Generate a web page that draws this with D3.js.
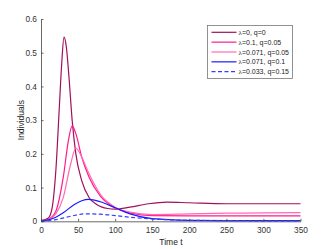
<!DOCTYPE html>
<html>
<head>
<meta charset="utf-8">
<script src="https://cdn.jsdelivr.net/npm/d3@7"></script>
<style>
  body { margin: 0; background: #fff; }
  svg { font-family: "Liberation Sans", Arial, sans-serif; }
</style>
</head>
<body>
<div id="chart"></div>
<script>
// values
const xTicks = [0, 50, 100, 150, 200, 250, 300, 350];
const yTicks = [0, 0.1, 0.2, 0.3, 0.4, 0.5, 0.6];

const tDark = [0, 10, 15, 20, 25, 28, 31, 34, 38, 42, 47, 55, 65, 75, 90, 100, 120, 145, 170, 200, 250, 300, 350];
const vDark = [0.002, 0.01, 0.04, 0.15, 0.35, 0.47, 0.546, 0.52, 0.42, 0.3, 0.2, 0.12, 0.07, 0.05, 0.038, 0.036, 0.042, 0.052, 0.057, 0.055, 0.052, 0.052, 0.052];

const tDeep = [0, 10, 20, 30, 37, 42, 47, 55, 65, 80, 100, 120, 150, 200, 250, 300, 350];
const vDeep = [0.001, 0.006, 0.03, 0.13, 0.24, 0.283, 0.26, 0.19, 0.13, 0.075, 0.04, 0.025, 0.017, 0.016, 0.016, 0.016, 0.016];

const tLight = [0, 10, 20, 30, 40, 47, 55, 65, 80, 100, 120, 150, 200, 250, 300, 350];
const vLight = [0.001, 0.005, 0.022, 0.07, 0.17, 0.217, 0.19, 0.14, 0.08, 0.042, 0.027, 0.02, 0.022, 0.024, 0.025, 0.026];

const tBlue = [0, 10, 20, 30, 45, 55, 64, 80, 100, 120, 150, 200, 250, 350];
const vBlue = [0.001, 0.004, 0.012, 0.025, 0.05, 0.061, 0.065, 0.058, 0.04, 0.022, 0.008, 0.003, 0.002, 0.002];

const tDash = [0, 20, 40, 60, 80, 100, 120, 150, 200, 250, 350];
const vDash = [0, 0.005, 0.015, 0.022, 0.021, 0.017, 0.012, 0.007, 0.003, 0.002, 0.001];

const series = [
  { lam: "0", q: "0", t: tDark, v: vDark, color: "#a0105c", dash: null },
  { lam: "0.1", q: "0.05", t: tDeep, v: vDeep, color: "#ff1a8c", dash: null },
  { lam: "0.071", q: "0.05", t: tLight, v: vLight, color: "#ff6ab4", dash: null },
  { lam: "0.071", q: "0.1", t: tBlue, v: vBlue, color: "#1a1aff", dash: null },
  { lam: "0.033", q: "0.15", t: tDash, v: vDash, color: "#3a3aff", dash: "4,2.5" }
];

const width = 332, height = 249;
const svg = d3.select("#chart").append("svg")
  .attr("width", width).attr("height", height);

const x = d3.scaleLinear().domain([0, 350]).range([41, 300.5]);
const y = d3.scaleLinear().domain([0, 0.6]).range([221.3, 19]);

const line = d3.line()
  .x(d => x(d[0])).y(d => y(d[1]))
  .curve(d3.curveMonotoneX);

series.forEach(s => {
  svg.append("path")
    .datum(s.t.map((t, i) => [t, s.v[i]]))
    .attr("fill", "none")
    .attr("stroke", s.color)
    .attr("stroke-width", 1.2)
    .attr("stroke-dasharray", s.dash)
    .attr("d", line);
});

// axes, MATLAB style ticks pointing inward
const xAxis = svg.append("g")
  .attr("transform", `translate(0,${y(0)})`)
  .call(d3.axisBottom(x).tickValues(xTicks).tickSizeInner(-2.5).tickSizeOuter(0).tickPadding(6));
const yAxis = svg.append("g")
  .attr("transform", `translate(${x(0)},0)`)
  .call(d3.axisLeft(y).tickValues(yTicks).tickFormat(d3.format("")).tickSizeInner(-2.5).tickSizeOuter(0).tickPadding(4));

[xAxis, yAxis].forEach(g => {
  g.select(".domain").attr("stroke", "#444").attr("stroke-width", 0.8);
  g.selectAll(".tick line").attr("stroke", "#444").attr("stroke-width", 0.8);
  g.selectAll(".tick text").attr("fill", "#333").style("font-size", "8.3px");
});

svg.append("text")
  .attr("x", 171).attr("y", 245)
  .attr("text-anchor", "middle")
  .attr("fill", "#222")
  .style("font-size", "8.5px")
  .text("Time t");

svg.append("text")
  .attr("transform", `translate(24,${(y(0) + y(0.6)) / 2}) rotate(-90)`)
  .attr("text-anchor", "middle")
  .attr("fill", "#222")
  .style("font-size", "8.5px")
  .text("Individuals");

// legend
const lg = svg.append("g");
lg.append("rect")
  .attr("x", 207.5).attr("y", 25.5)
  .attr("width", 85).attr("height", 53)
  .attr("fill", "#fff").attr("stroke", "#777").attr("stroke-width", 0.8);

series.forEach((s, i) => {
  const yy = 32.3 + i * 9.85;
  lg.append("line")
    .attr("x1", 211.5).attr("x2", 236.5)
    .attr("y1", yy).attr("y2", yy)
    .attr("stroke", s.color).attr("stroke-width", 1.2)
    .attr("stroke-dasharray", s.dash);
  const tx = lg.append("text")
    .attr("x", 238.5).attr("y", yy + 2.5)
    .attr("fill", "#222")
    .style("font-size", "7px");
  tx.append("tspan").style("font-family", "'Liberation Serif', serif").text("λ");
  tx.append("tspan").text(`=${s.lam}, q=${s.q}`);
});
</script>
</body>
</html>
